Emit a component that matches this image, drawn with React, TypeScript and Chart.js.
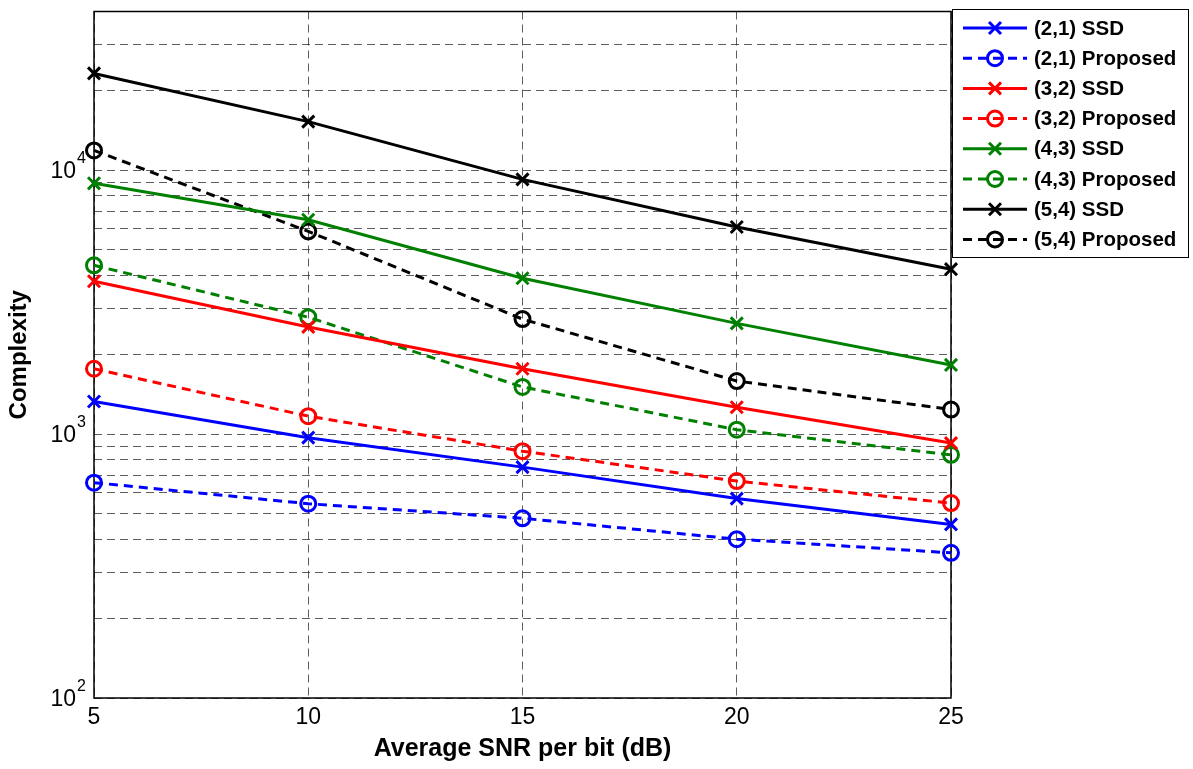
import React, { useEffect, useRef } from 'react';
import { Chart, registerables } from 'chart.js';

Chart.register(...registerables);

const snr = [5, 10, 15, 20, 25];
const xTickLabels = ['5', '10', '15', '20', '25'];
const yTickValues = [
  100, 200, 300, 400, 500, 600, 700, 800, 900,
  1000, 2000, 3000, 4000, 5000, 6000, 7000, 8000, 9000,
  10000, 20000, 30000, 40000,
];
const yDecades = [100, 1000, 10000];
const yDecadeExp = ['2', '3', '4'];

const seriesLabels = [
  '(2,1) SSD', '(2,1) Proposed',
  '(3,2) SSD', '(3,2) Proposed',
  '(4,3) SSD', '(4,3) Proposed',
  '(5,4) SSD', '(5,4) Proposed',
];
const ssd21 = [1330, 970, 750, 570, 455];
const prop21 = [655, 545, 480, 400, 355];
const ssd32 = [3800, 2550, 1770, 1265, 925];
const prop32 = [1770, 1170, 862, 664, 548];
const ssd43 = [8930, 6500, 3900, 2630, 1830];
const prop43 = [4365, 2775, 1510, 1040, 835];
const ssd54 = [23300, 15300, 9240, 6100, 4220];
const prop54 = [11900, 5870, 2730, 1590, 1240];

const seriesValues = [ssd21, prop21, ssd32, prop32, ssd43, prop43, ssd54, prop54];
const seriesColors = ['#0000ff', '#0000ff', '#ff0000', '#ff0000', '#008000', '#008000', '#000000', '#000000'];
const seriesProposed = [false, true, false, true, false, true, false, true];

const FONT = '"Liberation Sans", Arial, Helvetica, sans-serif';
const LINE_DASH = [9, 6];

function drawMarker(ctx: CanvasRenderingContext2D, x: number, y: number, proposed: boolean, color: string) {
  ctx.save();
  ctx.setLineDash([]);
  ctx.strokeStyle = color;
  ctx.lineWidth = 3;
  ctx.beginPath();
  if (proposed) {
    ctx.arc(x, y, 7.5, 0, Math.PI * 2);
  } else {
    const d = 6;
    ctx.moveTo(x - d, y - d);
    ctx.lineTo(x + d, y + d);
    ctx.moveTo(x + d, y - d);
    ctx.lineTo(x - d, y + d);
  }
  ctx.stroke();
  ctx.restore();
}

const overlayPlugin = {
  id: 'overlay',
  beforeDatasetsDraw(chart: any) {
    const { ctx, chartArea } = chart;
    ctx.save();
    ctx.setLineDash([]);
    ctx.strokeStyle = '#000';
    ctx.lineWidth = 1.5;
    ctx.strokeRect(chartArea.left, chartArea.top, chartArea.right - chartArea.left, chartArea.bottom - chartArea.top);
    ctx.restore();
  },
  afterDraw(chart: any) {
    const { ctx } = chart;
    const yScale = chart.scales.y;
    ctx.save();
    ctx.fillStyle = '#000';
    yDecades.forEach((v, i) => {
      const py = yScale.getPixelForValue(v);
      ctx.font = `23px ${FONT}`;
      ctx.textAlign = 'right';
      ctx.textBaseline = 'alphabetic';
      ctx.fillText('10', 76, py + 8);
      ctx.font = `16px ${FONT}`;
      ctx.textAlign = 'left';
      ctx.fillText(yDecadeExp[i], 77, py - 7);
    });
    ctx.restore();

    const bx = 952, by = 9, bw = 236, bh = 248;
    ctx.save();
    ctx.fillStyle = '#fff';
    ctx.fillRect(bx, by, bw, bh);
    ctx.setLineDash([]);
    ctx.strokeStyle = '#000';
    ctx.lineWidth = 1;
    ctx.strokeRect(bx + 0.5, by + 0.5, bw, bh);
    chart.data.datasets.forEach((ds: any, i: number) => {
      const rowY = 28 + i * 30.2;
      const proposed = seriesProposed[i];
      const color = seriesColors[i];
      ctx.save();
      ctx.strokeStyle = color;
      ctx.lineWidth = 3;
      ctx.setLineDash(proposed ? LINE_DASH : []);
      ctx.beginPath();
      ctx.moveTo(963, rowY);
      ctx.lineTo(1027, rowY);
      ctx.stroke();
      ctx.restore();
      drawMarker(ctx, 995, rowY, proposed, color);
      ctx.fillStyle = '#000';
      ctx.font = `bold 20.5px ${FONT}`;
      ctx.textAlign = 'left';
      ctx.textBaseline = 'middle';
      ctx.fillText(ds.label, 1034, rowY + 1);
    });
    ctx.restore();
  },
};

export default function App() {
  const canvasRef = useRef<HTMLCanvasElement | null>(null);

  useEffect(() => {
    document.body.style.margin = '0';
    const canvas = canvasRef.current;
    if (!canvas) return;
    const datasets = seriesLabels.map((label, i) => ({
      label,
      data: snr.map((x, j) => ({ x, y: seriesValues[i][j] })),
      borderColor: seriesColors[i],
      backgroundColor: seriesColors[i],
      borderWidth: 3,
      borderDash: seriesProposed[i] ? LINE_DASH : [],
      pointStyle: seriesProposed[i] ? 'circle' : 'crossRot',
      pointRadius: seriesProposed[i] ? 7.5 : 8.5,
      pointBorderWidth: 3,
      pointBorderColor: seriesColors[i],
      pointBackgroundColor: 'rgba(0,0,0,0)',
      fill: false,
      tension: 0,
      clip: false as any,
    }));
    const chart = new Chart(canvas, {
      type: 'line',
      data: { datasets },
      plugins: [overlayPlugin],
      options: {
        animation: false,
        responsive: true,
        maintainAspectRatio: false,
        layout: { padding: { top: 10, right: 242, left: 0, bottom: 0 } },
        plugins: {
          legend: { display: false },
          tooltip: { enabled: false },
        },
        scales: {
          x: {
            type: 'linear',
            min: 5,
            max: 25,
            afterBuildTicks: (scale: any) => {
              scale.ticks = snr.map((v) => ({ value: v }));
            },
            afterFit: (scale: any) => {
              scale.height = 71;
            },
            ticks: {
              callback: (_v: any, idx: number) => xTickLabels[idx],
              color: '#000',
              font: { family: FONT, size: 23 },
              padding: 6,
              maxRotation: 0,
            },
            grid: { color: 'rgba(40,40,40,0.75)', lineWidth: 1, drawTicks: false },
            border: { display: false, dash: [8, 5] },
            title: {
              display: true,
              text: 'Average SNR per bit (dB)',
              color: '#000',
              font: { family: FONT, size: 25, weight: 'bold' },
              padding: { top: 0, bottom: 5 },
            },
          },
          y: {
            type: 'logarithmic',
            min: 100,
            max: 40000,
            afterBuildTicks: (scale: any) => {
              scale.ticks = yTickValues.map((v) => ({ value: v }));
            },
            afterFit: (scale: any) => {
              scale.width = 94;
            },
            ticks: { display: false },
            grid: { color: 'rgba(40,40,40,0.75)', lineWidth: 1, drawTicks: false },
            border: { display: false, dash: [8, 5] },
            title: {
              display: true,
              text: 'Complexity',
              color: '#000',
              font: { family: FONT, size: 24, weight: 'bold' },
              padding: { top: 5, bottom: 0 },
            },
          },
        },
      } as any,
    });
    return () => chart.destroy();
  }, []);

  return (
    <div style={{ width: 1193, height: 769, position: 'relative', background: '#fff' }}>
      <canvas ref={canvasRef} />
    </div>
  );
}
